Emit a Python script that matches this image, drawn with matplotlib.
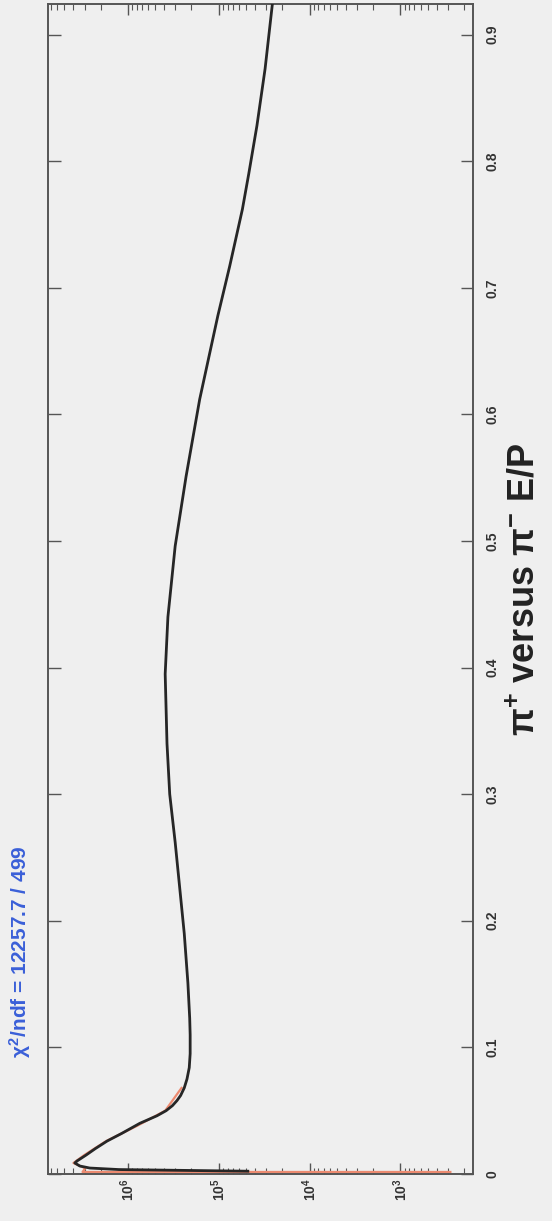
import numpy as np
import matplotlib
matplotlib.use("Agg")
import matplotlib.pyplot as plt

# fuentes tipo ROOT (Helvetica negrita)
plt.rcParams['font.family'] = ['Liberation Sans', 'DejaVu Sans']
plt.rcParams['mathtext.fontset'] = 'custom'
plt.rcParams['mathtext.rm'] = 'Liberation Sans:bold'
plt.rcParams['mathtext.bf'] = 'Liberation Sans:bold'
plt.rcParams['mathtext.it'] = 'Liberation Sans:bold'

# --- datos (E/P, log10 cuentas) ---
fit_ep = [0.924, 0.873, 0.828, 0.79, 0.762, 0.717, 0.678, 0.645, 0.612, 0.551,
          0.496, 0.44, 0.395, 0.34, 0.30, 0.262, 0.19, 0.151, 0.123, 0.11,
          0.095, 0.084, 0.075, 0.068, 0.062, 0.058, 0.054, 0.050, 0.046, 0.040,
          0.032, 0.026, 0.020, 0.015, 0.0103, 0.0087, 0.0063, 0.0047, 0.0035,
          0.0022]
fit_log10 = [4.41, 4.49, 4.58, 4.67, 4.74, 4.88, 5.01, 5.11, 5.21, 5.36,
             5.48, 5.56, 5.59, 5.57, 5.54, 5.48, 5.38, 5.34, 5.32, 5.315,
             5.315, 5.325, 5.35, 5.38, 5.42, 5.46, 5.51, 5.58, 5.68, 5.87,
             6.07, 6.23, 6.36, 6.46, 6.56, 6.585, 6.53, 6.42, 6.10, 4.68]

data_ep = [0.0016, 0.0016, 0.0045, 0.0087, 0.015, 0.026, 0.038, 0.050, 0.068]
data_log10 = [2.45, 6.50, 6.47, 6.60, 6.48, 6.24, 5.90, 5.59, 5.41]

ep_ticks = [0, 0.1, 0.2, 0.3, 0.4, 0.5, 0.6, 0.7, 0.8, 0.9]
ep_ticklabels = ['0', '0.1', '0.2', '0.3', '0.4', '0.5', '0.6', '0.7', '0.8', '0.9']
count_exps = [3, 4, 5, 6]

chi2_text = r'$\chi^{2}$/ndf = 12257.7 / 499'
xlabel_text = r'π$^{+}$ versus π$^{-}$ E/P'

bg = '#efefef'
fig = plt.figure(figsize=(5.52, 12.21), dpi=100, facecolor=bg)
ax = fig.add_axes([0.087, 0.0385, 0.770, 0.958])
ax.set_facecolor(bg)

# grafico rotado: cuentas en horizontal (invertido), E/P en vertical
ax.plot(np.power(10.0, data_log10), data_ep, color='#ec8a70', lw=1.6, zorder=2)
ax.plot(np.power(10.0, fit_log10), fit_ep, color='#262626', lw=2.0, zorder=3,
        solid_joinstyle='round')

ax.set_xscale('log')
ax.set_xlim(10 ** 6.88, 10 ** 2.2)
ax.set_ylim(0, 0.924)

ax.set_xticks([10.0 ** e for e in count_exps])
ax.set_xticklabels([r'$\mathbf{10^{%d}}$' % e for e in count_exps])
ax.set_yticks(ep_ticks)
ax.set_yticklabels(ep_ticklabels)

ax.tick_params(axis='x', which='major', direction='in', top=True, bottom=True,
               length=8, width=1.0, color='#555555', labelrotation=90,
               labelsize=10, pad=3, labelcolor='#333333')
ax.tick_params(axis='x', which='minor', direction='in', top=True, bottom=True,
               length=4, width=0.8, color='#555555')
ax.tick_params(axis='y', which='major', direction='in', left=True, right=True,
               labelleft=False, labelright=True, length=9, width=1.0,
               color='#555555', labelrotation=90, labelsize=10, pad=9,
               labelcolor='#333333')
for lab in ax.get_yticklabels():
    lab.set_fontweight('bold')
    lab.set_va('center')

for sp in ax.spines.values():
    sp.set_color('#555555')
    sp.set_linewidth(1.4)

ax.yaxis.set_label_position('right')
ax.set_ylabel(xlabel_text, fontsize=26, fontweight='bold', rotation=90,
              labelpad=6, color='#222222')

fig.text(0.036, (1221 - 1058) / 1221, chi2_text, rotation=90, color='#3a5fd8',
         fontsize=15, fontweight='bold', ha='center', va='bottom')

fig.savefig('out.png', dpi=100, facecolor=bg)
